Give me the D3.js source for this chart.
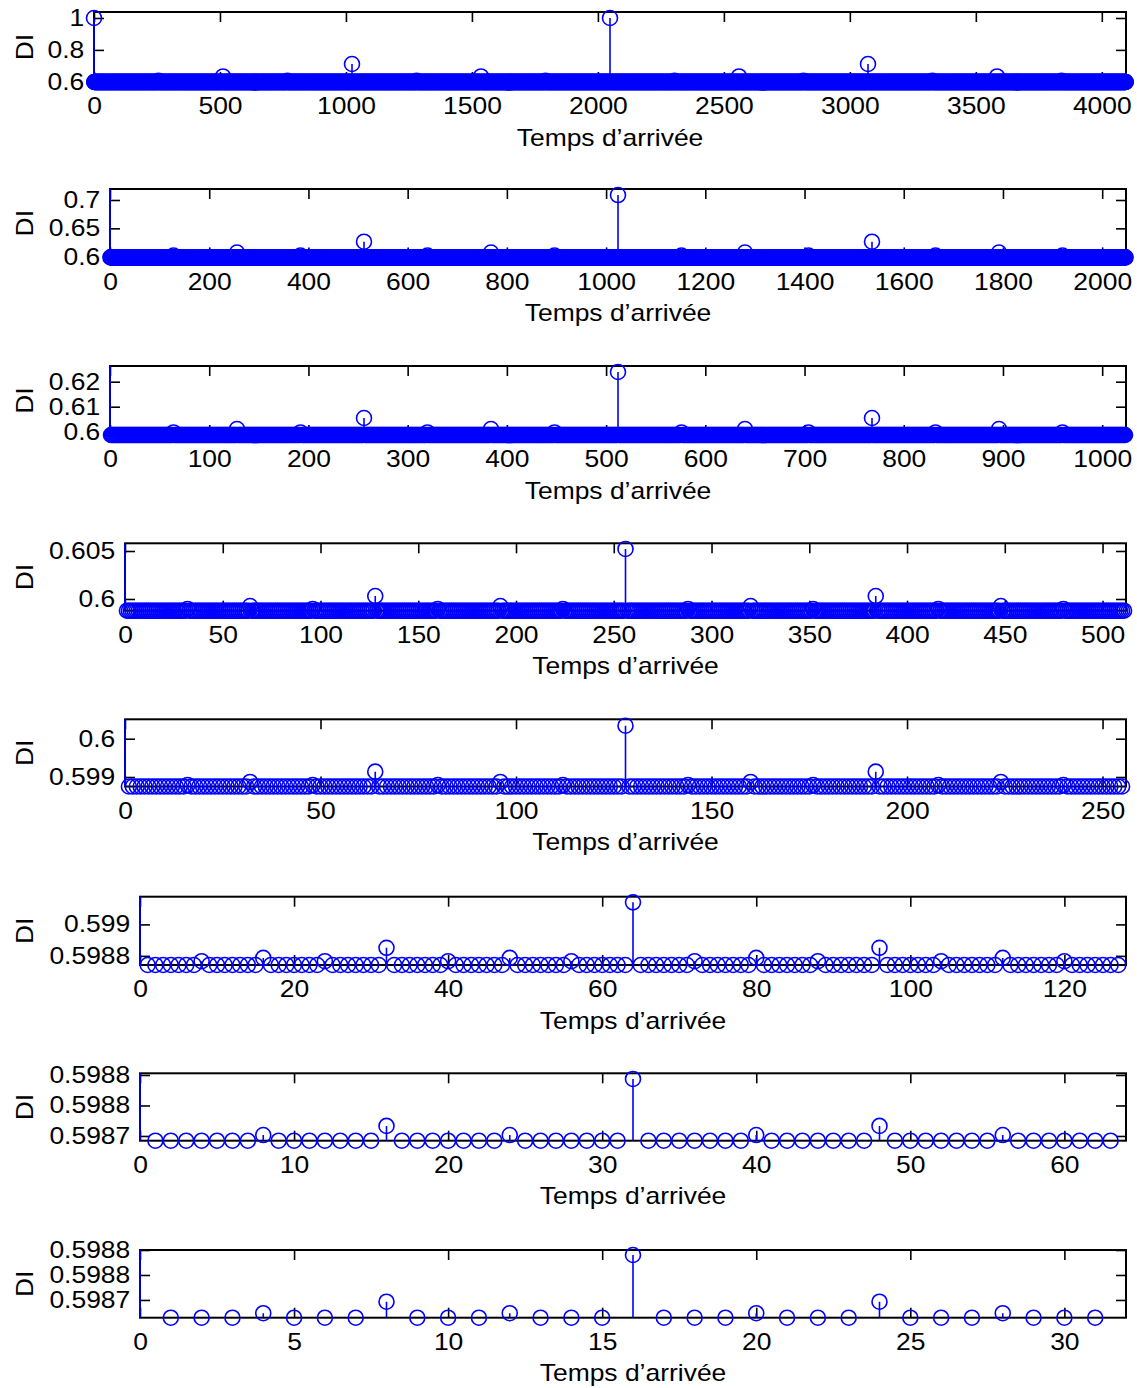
<!DOCTYPE html>
<html><head><meta charset="utf-8">
<script src="https://cdn.jsdelivr.net/npm/d3@7"></script>
<style>
body{margin:0;background:#fff}
svg{display:block}
text{font-family:"Liberation Sans",Arial,Helvetica,sans-serif;fill:#000}
</style>
</head><body>
<script>
// ---------------- data ----------------
const xLabel = "Temps d’arrivée";
const yLabel = "DI";
const counts = [4096, 2048, 1024, 512, 256, 128, 64, 32];

const xTicks1 = [0, 500, 1000, 1500, 2000, 2500, 3000, 3500, 4000];
const xTicks2 = [0, 200, 400, 600, 800, 1000, 1200, 1400, 1600, 1800, 2000];
const xTicks3 = [0, 100, 200, 300, 400, 500, 600, 700, 800, 900, 1000];
const xTicks4 = [0, 50, 100, 150, 200, 250, 300, 350, 400, 450, 500];
const xTicks5 = [0, 50, 100, 150, 200, 250];
const xTicks6 = [0, 20, 40, 60, 80, 100, 120];
const xTicks7 = [0, 10, 20, 30, 40, 50, 60];
const xTicks8 = [0, 5, 10, 15, 20, 25, 30];

const yTicks1 = [0.6, 0.8, 1];
const yTicks2 = [0.6, 0.65, 0.7];
const yTicks3 = [0.6, 0.61, 0.62];
const yTicks4 = [0.6, 0.605];
const yTicks5 = [0.599, 0.6];
const yTicks6 = [0.5988, 0.599];
const yTicks7 = [0.59874, 0.59876, 0.59878];
const yTicks8 = [0.59874, 0.59876, 0.59878];

// axis limits [min, max]
const yLimits = [
  [0.59875, 1.0376],
  [0.59877, 0.7194],
  [0.59868, 0.62628],
  [0.598781, 0.605802],
  [0.598752, 0.600507],
  [0.598742, 0.599176],
  [0.5987369, 0.5987811],
  [0.5987258, 0.59878]
];

// value of every point not listed in the peak lists
const baselines = [0.59875, 0.59877, 0.59868, 0.598781, 0.598752, 0.598742, 0.5987369, 0.5987258];

// [arrival time, DI] of the points that stand above the baseline
const peaks1 = [[0,1],[2048,1],[1024,0.7116],[3072,0.7116],
  [512,0.6333],[1536,0.6333],[2560,0.6333],[3584,0.6333],
  [256,0.606],[768,0.606],[1280,0.606],[1792,0.606],[2304,0.606],[2816,0.606],[3328,0.606],[3840,0.606]];
const peaks2 = [[0,1],[1024,0.7088],[512,0.6265],[1536,0.6265],
  [256,0.6074],[768,0.6074],[1280,0.6074],[1792,0.6074],
  [128,0.602],[384,0.602],[640,0.602],[896,0.602],[1152,0.602],[1408,0.602],[1664,0.602],[1920,0.602]];
const peaks3 = [[0,1],[512,0.62388],[256,0.60548],[768,0.60548],
  [128,0.60108],[384,0.60108],[640,0.60108],[896,0.60108],
  [64,0.5997],[192,0.5997],[320,0.5997],[448,0.5997],[576,0.5997],[704,0.5997],[832,0.5997],[960,0.5997]];
const peaks4 = [[0,1],[256,0.60521],[128,0.60031],[384,0.60031],
  [64,0.59927],[192,0.59927],[320,0.59927],[448,0.59927],
  [32,0.59896],[96,0.59896],[160,0.59896],[224,0.59896],[288,0.59896],[352,0.59896],[416,0.59896],[480,0.59896]];
const peaks5 = [[0,1],[128,0.60034],[64,0.59914],[192,0.59914],
  [32,0.59887],[96,0.59887],[160,0.59887],[224,0.59887],
  [16,0.59879],[48,0.59879],[80,0.59879],[112,0.59879],[144,0.59879],[176,0.59879],[208,0.59879],[240,0.59879]];
const peaks6 = [[0,1],[64,0.59914],[32,0.598851],[96,0.598851],
  [16,0.598787],[48,0.598787],[80,0.598787],[112,0.598787],
  [8,0.598766],[24,0.598766],[40,0.598766],[56,0.598766],[72,0.598766],[88,0.598766],[104,0.598766],[120,0.598766]];
const peaks7 = [[0,1],[32,0.5987774],[16,0.5987466],[48,0.5987466],
  [8,0.5987406],[24,0.5987406],[40,0.5987406],[56,0.5987406]];
const peaks8 = [[0,1],[16,0.598776],[8,0.5987386],[24,0.5987386],
  [4,0.5987294],[12,0.5987294],[20,0.5987294],[28,0.5987294]];

const xTicksAll = [xTicks1, xTicks2, xTicks3, xTicks4, xTicks5, xTicks6, xTicks7, xTicks8];
const yTicksAll = [yTicks1, yTicks2, yTicks3, yTicks4, yTicks5, yTicks6, yTicks7, yTicks8];
const peaksAll = [peaks1, peaks2, peaks3, peaks4, peaks5, peaks6, peaks7, peaks8];

// ---------------- layout ----------------
const W = 1137, H = 1388;
const frames = [
  {l: 94,  t: 12,     b: 82},
  {l: 110, t: 189,    b: 257.4},
  {l: 110, t: 366,    b: 435},
  {l: 125, t: 543.3,  b: 610.7},
  {l: 125, t: 719.3,  b: 786.5},
  {l: 140, t: 896.7,  b: 965},
  {l: 140, t: 1073.3, b: 1140.7},
  {l: 140, t: 1250,   b: 1317.7}
];
const RIGHT = 1126;
const BLUE = "#0000ff";
const FS = 23;
const SX = 1.15; // horizontal stretch of the lettering

const svg = d3.select("body").append("svg").attr("width", W).attr("height", H);
const fmtY = d3.format(".4~g");

frames.forEach((f, i) => {
  const N = counts[i];
  const x = d3.scaleLinear().domain([0, N]).range([f.l, RIGHT]);
  const y = d3.scaleLinear().domain(yLimits[i]).range([f.b, f.t]);
  const g = svg.append("g");

  // build the series
  const peakMap = new Map(peaksAll[i].map(d => [d[0], d[1]]));
  const pts = d3.range(N).map(k => ({x: k, v: peakMap.has(k) ? peakMap.get(k) : baselines[i]}));

  // axes
  const ax = (axis, tr) => {
    const a = g.append("g").attr("transform", tr).call(axis);
    a.select(".domain").remove();
    a.selectAll(".tick line").attr("stroke", "#000").attr("stroke-width", 1.6);
    a.selectAll("text").attr("font-size", FS).attr("font-family", '"Liberation Sans", Arial, sans-serif')
      .attr("fill", "#000").attr("transform", `scale(${SX},1)`);
    return a;
  };
  ax(d3.axisBottom(x).tickValues(xTicksAll[i]).tickSize(-10).tickPadding(16).tickFormat(d3.format("d")), `translate(0,${f.b})`);
  ax(d3.axisTop(x).tickValues(xTicksAll[i]).tickSize(-10).tickFormat(""), `translate(0,${f.t})`);
  ax(d3.axisLeft(y).tickValues(yTicksAll[i]).tickSize(-10).tickPadding(8.5).tickFormat(fmtY), `translate(${f.l},0)`);
  ax(d3.axisRight(y).tickValues(yTicksAll[i]).tickSize(-10).tickFormat(""), `translate(${RIGHT},0)`);
  g.append("rect").attr("x", f.l).attr("y", f.t).attr("width", RIGHT - f.l).attr("height", f.b - f.t)
    .attr("fill", "none").attr("stroke", "#000").attr("stroke-width", 2);

  // labels
  g.append("text").attr("transform", `translate(${(f.l + RIGHT) / 2},${f.b + 63.5}) scale(${SX},1)`)
    .attr("text-anchor", "middle").attr("font-size", FS).text(xLabel);
  g.append("text").attr("transform", `translate(32.5,${(f.t + f.b) / 2}) rotate(-90) scale(${SX},1)`)
    .attr("text-anchor", "middle").attr("font-size", FS).text(yLabel);

  // data
  const cid = "clip" + i;
  svg.append("clipPath").attr("id", cid).append("rect")
    .attr("x", f.l - 1).attr("y", f.t).attr("width", RIGHT - f.l + 2).attr("height", f.b - f.t);
  const [ymin, ymax] = y.domain();
  g.append("g").attr("clip-path", `url(#${cid})`)
    .selectAll("line").data(pts.filter(d => d.v > ymin)).join("line")
    .attr("x1", d => x(d.x)).attr("x2", d => x(d.x))
    .attr("y1", y(ymin)).attr("y2", d => y(d.v))
    .attr("stroke", BLUE).attr("stroke-width", 1.6);
  g.append("g").selectAll("circle").data(pts.filter(d => d.v <= ymax + 1e-12 && d.v >= ymin - 1e-12)).join("circle")
    .attr("cx", d => x(d.x)).attr("cy", d => y(d.v)).attr("r", 7.5)
    .attr("fill", "none").attr("stroke", BLUE).attr("stroke-width", 1.6);
});
</script>
</body></html>
